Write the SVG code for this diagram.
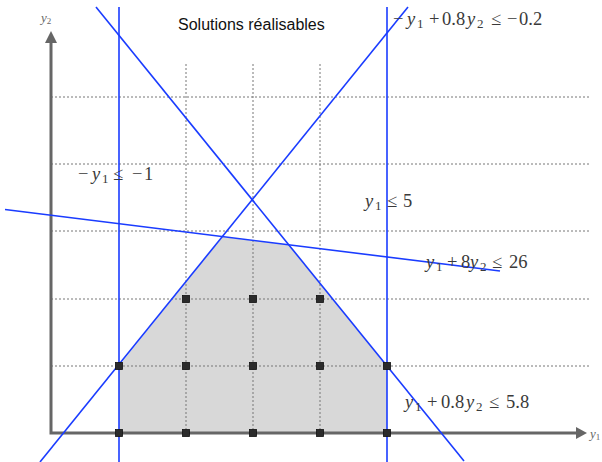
<svg xmlns="http://www.w3.org/2000/svg" width="602" height="462" viewBox="0 0 602 462">
<defs>
<style>
.grid{stroke:#777;stroke-width:1;stroke-dasharray:2,2;fill:none}
.axis{stroke:#666;stroke-width:3;fill:none}
.head{fill:#666}
.con{stroke:#1a3cff;stroke-width:1.6;fill:none}
.pt{fill:#2b2b2b;stroke:#111;stroke-width:0.8}
.math{font-family:"Liberation Serif","DejaVu Serif",serif;font-size:18.5px;fill:#3a3a3a}
.v{font-style:italic}
.sub{font-size:13px}
.ax{font-family:"Liberation Serif","DejaVu Serif",serif;font-size:13px;font-style:italic;fill:#666}
.title{font-family:"Liberation Sans",Arial,sans-serif;font-size:16px;fill:#111}
</style>
</defs>
<rect width="602" height="462" fill="#fff"/>
<g id="region">
<polygon points="119,433 119,366 222,237 289,245 387,366 387,433" fill="#d8d8d8"/>
</g>
<g id="grid">
<line class="grid" x1="51" y1="97" x2="590" y2="97"/>
<line class="grid" x1="51" y1="164" x2="590" y2="164"/>
<line class="grid" x1="51" y1="231" x2="590" y2="231"/>
<line class="grid" x1="51" y1="299" x2="590" y2="299"/>
<line class="grid" x1="51" y1="366" x2="590" y2="366"/>
<line class="grid" x1="186" y1="64" x2="186" y2="433"/>
<line class="grid" x1="253" y1="64" x2="253" y2="433"/>
<line class="grid" x1="320" y1="64" x2="320" y2="433"/>
</g>
<g id="axes">
<polyline class="axis" points="51,42 51,433 577,433"/>
<polygon class="head" points="45,43 57,43 51,31"/>
<polygon class="head" points="576,427 576,439 587,433"/>
<text class="ax" x="41" y="22">y<tspan font-size="9" dy="2" font-style="normal">2</tspan></text>
<text class="ax" x="590" y="438">y<tspan font-size="9" dy="2" font-style="normal">1</tspan></text>
</g>
<g id="connectors">
<line class="con" x1="40" y1="462" x2="408" y2="7"/>
<line class="con" x1="96" y1="7" x2="464" y2="461"/>
<line class="con" x1="5" y1="209.5" x2="500" y2="271"/>
<line class="con" x1="119" y1="7" x2="119" y2="462"/>
<line class="con" x1="387" y1="7" x2="387" y2="462"/>
</g>
<g id="points">
<rect class="pt" x="115.5" y="362.5" width="7" height="7"/>
<rect class="pt" x="182.5" y="362.5" width="7" height="7"/>
<rect class="pt" x="249.5" y="362.5" width="7" height="7"/>
<rect class="pt" x="316.5" y="362.5" width="7" height="7"/>
<rect class="pt" x="383.5" y="362.5" width="7" height="7"/>
<rect class="pt" x="182.5" y="295.5" width="7" height="7"/>
<rect class="pt" x="249.5" y="295.5" width="7" height="7"/>
<rect class="pt" x="316.5" y="295.5" width="7" height="7"/>
<rect class="pt" x="115.5" y="429.5" width="7" height="7"/>
<rect class="pt" x="182.5" y="429.5" width="7" height="7"/>
<rect class="pt" x="249.5" y="429.5" width="7" height="7"/>
<rect class="pt" x="316.5" y="429.5" width="7" height="7"/>
<rect class="pt" x="383.5" y="429.5" width="7" height="7"/>
</g>
<g id="labels">
<text class="title" x="178" y="30">Solutions réalisables</text>
<text class="math" y="25"><tspan x="393">−</tspan><tspan class="v" x="407">y</tspan><tspan class="sub" x="417" dy="3">1</tspan><tspan x="429" dy="-3">+</tspan><tspan x="442">0.8</tspan><tspan class="v" x="467">y</tspan><tspan class="sub" x="477" dy="3">2</tspan><tspan x="491" dy="-3">≤</tspan><tspan x="507">−</tspan><tspan x="519">0.2</tspan></text>
<text class="math" y="180"><tspan x="78">−</tspan><tspan class="v" x="92">y</tspan><tspan class="sub" x="102" dy="3">1</tspan><tspan x="113" dy="-3">≤</tspan><tspan x="132">−</tspan><tspan x="144">1</tspan></text>
<text class="math" y="207"><tspan class="v" x="365">y</tspan><tspan class="sub" x="375" dy="3">1</tspan><tspan x="387" dy="-3">≤</tspan><tspan x="403">5</tspan></text>
<text class="math" y="268"><tspan class="v" x="426">y</tspan><tspan class="sub" x="436" dy="3">1</tspan><tspan x="447" dy="-3">+</tspan><tspan x="461">8</tspan><tspan class="v" x="470">y</tspan><tspan class="sub" x="480" dy="3">2</tspan><tspan x="492" dy="-3">≤</tspan><tspan x="509">26</tspan></text>
<text class="math" y="408"><tspan class="v" x="405">y</tspan><tspan class="sub" x="415" dy="3">1</tspan><tspan x="427" dy="-3">+</tspan><tspan x="441">0.8</tspan><tspan class="v" x="466">y</tspan><tspan class="sub" x="476" dy="3">2</tspan><tspan x="489" dy="-3">≤</tspan><tspan x="506">5.8</tspan></text>
</g>
</svg>
